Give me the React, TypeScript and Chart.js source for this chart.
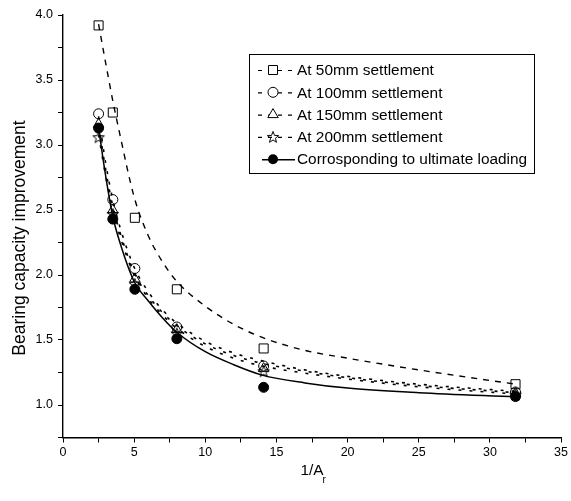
import React, { useEffect, useRef } from 'react';
import { Chart, registerables } from 'chart.js';

Chart.register(...registerables);

// ---- measured points ----
const pointX = [2.5, 3.5, 5.05, 8.0, 14.1, 31.8];
const s50 = [3.92, 3.25, 2.44, 1.89, 1.435, 1.16];
const s100 = [3.24, 2.58, 2.05, 1.6, 1.3, 1.1];
const s150 = [3.16, 2.5, 1.97, 1.58, 1.28, 1.09];
const s200 = [3.06, 2.47, 1.93, 1.55, 1.26, 1.08];
const sUlt = [3.13, 2.43, 1.89, 1.51, 1.136, 1.065];

// ---- fitted curves ----
const curveX = [2.5, 3, 3.5, 4, 5, 6, 7, 8, 10, 12, 14, 17, 20, 25, 31.8];
const fit50 = [3.93, 3.63, 3.34, 3.08, 2.6, 2.3, 2.1, 1.95, 1.76, 1.62, 1.52, 1.42, 1.36, 1.27, 1.16];
const fit100 = [3.22, 2.86, 2.58, 2.37, 2.06, 1.87, 1.73, 1.63, 1.49, 1.4, 1.34, 1.27, 1.22, 1.16, 1.105];
const fit150 = [3.16, 2.81, 2.53, 2.33, 2.02, 1.84, 1.71, 1.61, 1.47, 1.38, 1.32, 1.26, 1.21, 1.15, 1.095];
const fit200 = [3.08, 2.76, 2.5, 2.3, 2.0, 1.82, 1.69, 1.59, 1.45, 1.36, 1.3, 1.245, 1.2, 1.14, 1.085];
const fitUlt = [3.13, 2.76, 2.45, 2.25, 1.95, 1.8, 1.67, 1.56, 1.41, 1.31, 1.23, 1.17, 1.13, 1.095, 1.062];

const legendLabels = [
  'At 50mm settlement',
  'At 100mm settlement',
  'At 150mm settlement',
  'At 200mm settlement',
  'Corrosponding to ultimate loading',
];
const xTitle = '1/A';
const xTitleSub = 'r';
const yTitle = 'Bearing capacity improvement';

const FONT = '"Liberation Sans", Arial, sans-serif';
const DASH50 = [6, 6];
const DOT = [3, 8];

function makeStar(r: number) {
  const size = Math.ceil(r * 2 + 4);
  const c = document.createElement('canvas');
  c.width = size;
  c.height = size;
  const g = c.getContext('2d')!;
  g.translate(size / 2, size / 2 + 0.5);
  g.beginPath();
  for (let i = 0; i < 10; i++) {
    const rad = i % 2 === 0 ? r : r * 0.42;
    const a = -Math.PI / 2 + (i * Math.PI) / 5;
    g.lineTo(rad * Math.cos(a), rad * Math.sin(a));
  }
  g.closePath();
  g.strokeStyle = '#000';
  g.lineWidth = 1;
  g.stroke();
  return c;
}

const pts = (xs: number[], ys: number[]) => xs.map((x, i) => ({ x, y: ys[i] }));

export default function App() {
  const ref = useRef<HTMLCanvasElement | null>(null);

  useEffect(() => {
    const canvas = ref.current!;
    const star = makeStar(6);

    const markerKinds = ['rect', 'circle', 'triangle', 'star', 'filled'];
    const dashes = [[4, 6], [4, 6], [4, 6], [4, 6], []];

    const drawMarker = (ctx: CanvasRenderingContext2D, kind: string, x: number, y: number) => {
      ctx.save();
      ctx.setLineDash([]);
      ctx.strokeStyle = '#000';
      ctx.fillStyle = '#fff';
      ctx.lineWidth = 1;
      ctx.beginPath();
      if (kind === 'rect') {
        ctx.rect(x - 4.5, y - 4.5, 9, 9);
        ctx.fill();
        ctx.stroke();
      } else if (kind === 'circle') {
        ctx.arc(x, y, 5, 0, Math.PI * 2);
        ctx.fill();
        ctx.stroke();
      } else if (kind === 'triangle') {
        ctx.moveTo(x, y - 6);
        ctx.lineTo(x + 5.2, y + 3);
        ctx.lineTo(x - 5.2, y + 3);
        ctx.closePath();
        ctx.fill();
        ctx.stroke();
      } else if (kind === 'star') {
        ctx.drawImage(star, x - star.width / 2, y - star.height / 2);
      } else {
        ctx.fillStyle = '#000';
        ctx.arc(x, y, 5, 0, Math.PI * 2);
        ctx.fill();
      }
      ctx.restore();
    };

    const overlay = {
      id: 'overlay',
      afterDraw(chart: any) {
        const ctx: CanvasRenderingContext2D = chart.ctx;
        ctx.save();
        // legend box
        ctx.strokeStyle = '#000';
        ctx.lineWidth = 1;
        ctx.setLineDash([]);
        ctx.strokeRect(249.5, 54.5, 285, 119);
        ctx.font = `15.4px ${FONT}`;
        ctx.fillStyle = '#000';
        ctx.textBaseline = 'middle';
        ctx.textAlign = 'left';
        legendLabels.forEach((lab, i) => {
          const y = 70 + i * 22.3;
          ctx.save();
          ctx.lineWidth = i === 4 ? 1.5 : 1.2;
          ctx.setLineDash(dashes[i]);
          ctx.lineDashOffset = 0;
          ctx.beginPath();
          ctx.moveTo(i === 4 ? 262 : 258, y + 0.5);
          ctx.lineTo(i === 4 ? 295 : 294, y + 0.5);
          ctx.stroke();
          ctx.restore();
          drawMarker(ctx, markerKinds[i], 273, y);
          ctx.fillText(lab, 297, y + 1);
        });
        // y title
        ctx.save();
        ctx.translate(20, 238);
        ctx.rotate(-Math.PI / 2);
        ctx.font = `17.5px ${FONT}`;
        ctx.textAlign = 'center';
        ctx.textBaseline = 'middle';
        ctx.fillText(yTitle, 0, 0);
        ctx.restore();
        // x title with subscript
        ctx.font = `15.4px ${FONT}`;
        ctx.textAlign = 'left';
        ctx.textBaseline = 'alphabetic';
        const w = ctx.measureText(xTitle).width;
        const x0 = 312 - w / 2;
        ctx.fillText(xTitle, x0, 475);
        ctx.font = `10px ${FONT}`;
        ctx.fillText(xTitleSub, x0 + w - 1, 483);
        ctx.restore();
      },
    };

    const curveDs = (data: number[], dash: number[], width: number) => ({
      data: pts(curveX, data),
      showLine: true,
      cubicInterpolationMode: 'monotone',
      borderColor: '#000',
      borderWidth: width,
      borderDash: dash,
      pointRadius: 0,
      order: 2,
    });
    const pointDs = (data: number[], style: any, radius: number, filled: boolean) => ({
      data: pts(pointX, data),
      showLine: false,
      pointStyle: style,
      pointRadius: radius,
      pointBorderColor: '#000',
      pointBackgroundColor: filled ? '#000' : 'rgba(0,0,0,0)',
      pointBorderWidth: 1,
      order: 1,
    });

    const chart = new Chart(canvas, {
      type: 'scatter',
      data: {
        datasets: [
          pointDs(sUlt, 'circle', 5, true),
          pointDs(s200, star, 6, false),
          pointDs(s150, 'triangle', 6, false),
          pointDs(s100, 'circle', 5, false),
          pointDs(s50, 'rect', 6.4, false),
          curveDs(fitUlt, [], 1.5),
          curveDs(fit200, DOT, 1.6),
          curveDs(fit150, DOT, 1.6),
          curveDs(fit100, DOT, 1.6),
          curveDs(fit50, DASH50, 1.4),
        ] as any,
      },
      options: {
        responsive: false,
        animation: false,
        devicePixelRatio: 1,
        layout: { padding: { top: 15, right: 8.5, left: 0, bottom: 0 } },
        plugins: { legend: { display: false }, tooltip: { enabled: false } },
        scales: {
          x: {
            type: 'linear',
            min: 0,
            max: 35,
            ticks: {
              stepSize: 2.5,
              autoSkip: false,
              maxRotation: 0,
              color: '#000',
              padding: 3,
              font: { size: 12.5, family: FONT },
              callback: (v: any) => (Number(v) % 5 === 0 ? String(v) : ''),
            },
            grid: { display: true, drawOnChartArea: false, drawTicks: true, tickLength: 5, color: '#000', lineWidth: 1 },
            border: { display: true, color: '#000', width: 1.4 },
            afterFit: (s: any) => {
              s.height = 63.5;
            },
          },
          y: {
            type: 'linear',
            min: 0.75,
            max: 4,
            ticks: {
              stepSize: 0.25,
              autoSkip: false,
              color: '#000',
              padding: 5,
              font: { size: 12.5, family: FONT },
              callback: (v: any) => {
                const n = Number(v);
                return Math.abs(n * 2 - Math.round(n * 2)) < 1e-9 ? n.toFixed(1) : '';
              },
            },
            grid: { display: true, drawOnChartArea: false, drawTicks: true, tickLength: 5, color: '#000', lineWidth: 1 },
            border: { display: true, color: '#000', width: 1.4 },
            afterFit: (s: any) => {
              s.width = 63;
            },
          },
        },
      } as any,
      plugins: [overlay],
    });
    return () => chart.destroy();
  }, []);

  return (
    <div style={{ position: 'absolute', left: 0, top: 0, width: 571, height: 501, background: '#fff' }}>
      <canvas ref={ref} width={571} height={501} style={{ display: 'block', width: 571, height: 501 }} />
    </div>
  );
}
